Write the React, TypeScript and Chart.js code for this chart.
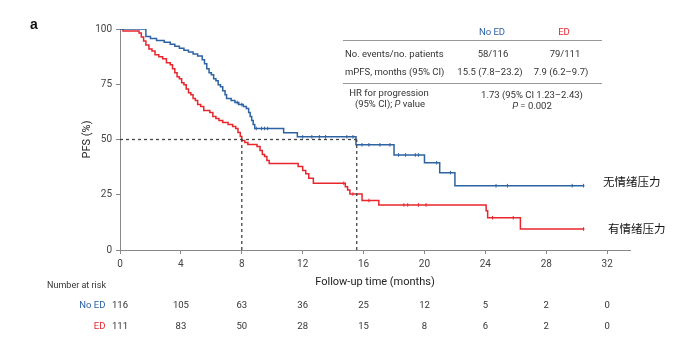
import React, { useEffect, useRef, useState } from "react";
import { Chart, registerables } from "chart.js";

Chart.register(...registerables);

// ---------- data ----------
const xTicks = [0, 4, 8, 12, 16, 20, 24, 28, 32];
const yTicks = [0, 25, 50, 75, 100];

// Kaplan-Meier steps: [time (months), PFS (%)]
const noEdCurve: [number, number][] = [
  [0, 100], [1.7, 96.6], [2.0, 95.7], [2.4, 94.8], [2.9, 94.0], [3.3, 93.1], [3.6, 92.2],
  [3.9, 91.3], [4.2, 90.4], [4.5, 89.6], [4.8, 88.7], [5.1, 87.8], [5.4, 86.1], [5.55, 84.3],
  [5.7, 82.0], [5.85, 80.2], [6.0, 79.3], [6.15, 77.5], [6.3, 76.6], [6.45, 74.8], [6.6, 73.9],
  [6.75, 72.1], [6.9, 70.3], [7.0, 68.5], [7.3, 67.6], [7.55, 66.7], [7.8, 65.8], [8.1, 64.9],
  [8.3, 64.0], [8.45, 62.2], [8.55, 60.4], [8.65, 58.6], [8.75, 56.8], [8.85, 55.0],
  [10.75, 53.1], [11.65, 51.2], [15.5, 47.6], [18.0, 43.0], [20.0, 39.5], [21.0, 35.0],
  [22.0, 29.1], [30.5, 29.1],
];
const edCurve: [number, number][] = [
  [0, 100], [0.2, 99.1], [1.25, 98.2], [1.4, 96.4], [1.55, 94.6], [1.7, 92.8], [1.9, 91.0],
  [2.1, 90.1], [2.3, 88.3], [2.55, 87.4], [2.8, 86.5], [3.05, 84.7], [3.3, 83.8], [3.45, 82.0],
  [3.6, 80.2], [3.75, 78.4], [3.9, 77.5], [4.05, 75.7], [4.2, 74.8], [4.35, 72.9], [4.5, 71.2],
  [4.65, 70.3], [4.8, 68.5], [4.95, 67.6], [5.1, 65.8], [5.3, 64.9], [5.5, 63.1], [5.9, 62.2],
  [6.1, 60.4], [6.3, 59.5], [6.5, 58.6], [6.75, 57.7], [7.1, 56.8], [7.4, 55.9], [7.6, 55.0],
  [7.75, 53.2], [7.9, 51.4], [8.0, 49.5], [8.2, 48.6], [8.4, 47.7], [9.0, 46.8], [9.2, 45.0],
  [9.35, 43.2], [9.5, 42.3], [9.65, 40.5], [9.8, 39.1], [11.7, 37.8], [12.0, 36.0],
  [12.2, 34.5], [12.4, 32.5], [12.7, 30.2], [14.8, 28.6], [14.95, 27.1], [15.1, 25.3],
  [15.9, 22.4], [17.0, 20.4], [24.05, 17.8], [24.15, 14.6], [26.3, 9.5], [30.5, 9.5],
];

// censoring marks
const noEdCensor: [number, number][] = [
  [7.7, 66.7], [8.0, 65.8], [8.95, 55], [9.3, 55], [9.5, 55], [9.7, 55], [12.0, 51.2],
  [12.6, 51.2], [13.1, 51.2], [13.5, 51.2], [14.9, 51.2], [15.3, 51.2], [15.9, 47.6],
  [16.35, 47.6], [17.07, 47.6], [17.73, 47.6], [18.3, 43], [18.76, 43], [19.4, 43],
  [19.6, 43], [20.8, 39.5], [21.7, 35], [24.7, 29.1], [25.45, 29.1], [29.7, 29.1], [30.45, 29.1],
];
const edCensor: [number, number][] = [
  [14.7, 30.2], [15.3, 25.3], [16.35, 22.4], [18.65, 20.4], [18.9, 20.4], [19.6, 20.4],
  [20.1, 20.4], [24.47, 14.6], [25.83, 14.6], [30.45, 9.5],
];

const medianEd = 8.0;
const medianNoEd = 15.55;

const riskNoEd = [116, 105, 63, 36, 25, 12, 5, 2, 0];
const riskEd = [111, 83, 50, 28, 15, 8, 6, 2, 0];

// ---------- styles ----------
const BLUE = "#2d62a3";
const RED = "#e8262c";
const FONT = "Roboto, 'Noto Sans', Arial, sans-serif";
const CJK = "'Noto Sans CJK SC', sans-serif";

const pts = (a: [number, number][]) => a.map(([x, y]) => ({ x, y }));

type TProps = {
  x: number;
  y: number;
  align?: "left" | "center" | "right";
  size?: number;
  color?: string;
  bold?: boolean;
  family?: string;
  children: React.ReactNode;
};

const T = ({ x, y, align = "left", size = 9.5, color = "#333", bold, family = FONT, children }: TProps) => {
  const tx = align === "left" ? "0" : align === "center" ? "-50%" : "-100%";
  return (
    <div
      style={{
        position: "absolute",
        left: x,
        top: y,
        transform: `translate(${tx}, -50%)`,
        fontSize: size,
        lineHeight: 1,
        color,
        fontFamily: family,
        fontWeight: bold ? 700 : 400,
        whiteSpace: "nowrap",
      }}
    >
      {children}
    </div>
  );
};

export default function App() {
  const ref = useRef<HTMLCanvasElement | null>(null);
  const [tickPx, setTickPx] = useState<number[]>([]);

  useEffect(() => {
    if (!ref.current) return;
    const dash = {
      borderColor: "#444",
      borderWidth: 1.3,
      borderDash: [3, 3],
      pointRadius: 0,
      fill: false,
    };
    const chart = new Chart(ref.current, {
      type: "line",
      data: {
        datasets: [
          { ...dash, data: [{ x: 0, y: 50 }, { x: medianNoEd, y: 50 }] },
          { ...dash, data: [{ x: medianEd, y: 0 }, { x: medianEd, y: 50 }] },
          { ...dash, data: [{ x: medianNoEd, y: 0 }, { x: medianNoEd, y: 50 }] },
          {
            data: pts(noEdCurve),
            borderColor: BLUE,
            borderWidth: 1.5,
            stepped: "before",
            pointRadius: 0,
            fill: false,
          },
          {
            data: pts(edCurve),
            borderColor: RED,
            borderWidth: 1.5,
            stepped: "before",
            pointRadius: 0,
            fill: false,
          },
          {
            data: pts(noEdCensor),
            showLine: false,
            pointStyle: "line",
            rotation: 90,
            pointRadius: 1.8,
            pointBorderWidth: 1,
            pointBorderColor: BLUE,
            borderColor: BLUE,
          },
          {
            data: pts(edCensor),
            showLine: false,
            pointStyle: "line",
            rotation: 90,
            pointRadius: 1.8,
            pointBorderWidth: 1,
            pointBorderColor: RED,
            borderColor: RED,
          },
        ] as any,
      },
      options: {
        animation: false,
        responsive: false,
        devicePixelRatio: 1,
        layout: { padding: { left: 81, top: 29, right: 62, bottom: 66 } },
        plugins: { legend: { display: false }, tooltip: { enabled: false } },
        scales: {
          x: {
            type: "linear",
            min: 0,
            max: 33.5,
            afterBuildTicks: (s: any) => {
              s.ticks = xTicks.map((v) => ({ value: v }));
            },
            afterFit: (s: any) => {
              s.height = 40;
            },
            grid: { drawOnChartArea: false, drawTicks: true, tickLength: 4, color: "#888", tickColor: "#888" },
            border: { display: true, color: "#888", width: 1 },
            ticks: { padding: 4, color: "#444", font: { size: 10, family: FONT }, maxRotation: 0 },
            title: {
              display: true,
              text: "Follow-up time (months)",
              color: "#222",
              font: { size: 11, family: FONT },
              padding: { top: 0, bottom: 1 },
            },
          },
          y: {
            type: "linear",
            min: 0,
            max: 100,
            afterBuildTicks: (s: any) => {
              s.ticks = yTicks.map((v) => ({ value: v }));
            },
            afterFit: (s: any) => {
              s.width = 39;
            },
            grid: { drawOnChartArea: false, drawTicks: true, tickLength: 4, color: "#888", tickColor: "#888" },
            border: { display: true, color: "#888", width: 1 },
            ticks: { padding: 4, color: "#444", font: { size: 10, family: FONT } },
            title: {
              display: true,
              text: "PFS (%)",
              color: "#222",
              font: { size: 11, family: FONT },
              padding: { top: 0, bottom: 0 },
            },
          },
        },
      } as any,
    });
    const xs = chart.scales.x;
    setTickPx(xTicks.map((t) => xs.getPixelForValue(t)));
    return () => chart.destroy();
  }, []);

  return (
    <div
      style={{
        position: "fixed",
        left: 0,
        top: 0,
        width: 692,
        height: 356,
        background: "#fff",
        overflow: "hidden",
      }}
    >
      <canvas ref={ref} width={692} height={356} style={{ position: "absolute", left: 0, top: 0, width: 692, height: 356 }} />

      <T x={30} y={24} size={14} bold color="#111" family="Arial, 'Liberation Sans', sans-serif">
        a
      </T>

      {/* summary table */}
      <T x={492} y={31.5} align="center" color={BLUE}>No ED</T>
      <T x={564} y={31.5} align="center" color={RED}>ED</T>
      <div style={{ position: "absolute", left: 343, top: 40, width: 259, borderTop: "1px solid #999" }} />
      <T x={345} y={53.5}>No. events/no. patients</T>
      <T x={493} y={53.5} align="center">58/116</T>
      <T x={565} y={53.5} align="center">79/111</T>
      <T x={345} y={72}>mPFS, months (95% CI)</T>
      <T x={490} y={72} align="center">15.5 (7.8–23.2)</T>
      <T x={561} y={72} align="center">7.9 (6.2–9.7)</T>
      <div style={{ position: "absolute", left: 343, top: 83, width: 259, borderTop: "1px solid #999" }} />
      <T x={389} y={93} align="center">HR for progression</T>
      <T x={390} y={103.5} align="center">
        (95% CI); <i>P</i> value
      </T>
      <T x={532} y={94.5} align="center">1.73 (95% CI 1.23–2.43)</T>
      <T x={532} y={105.5} align="center">
        <i>P</i> = 0.002
      </T>

      {/* curve labels */}
      <T x={603} y={182} size={11.5} color="#111" family={CJK}>无情绪压力</T>
      <T x={608} y={228.5} size={11.5} color="#111" family={CJK}>有情绪压力</T>

      {/* number at risk */}
      <T x={106} y={284.5} align="right" size={9}>Number at risk</T>
      <T x={105.5} y={305} align="right" size={9.5} color={BLUE}>No ED</T>
      <T x={105.5} y={326} align="right" size={9.5} color={RED}>ED</T>
      {tickPx.map((px, i) => (
        <React.Fragment key={i}>
          <T x={px} y={305} align="center" size={9.5}>{riskNoEd[i]}</T>
          <T x={px} y={326} align="center" size={9.5}>{riskEd[i]}</T>
        </React.Fragment>
      ))}
    </div>
  );
}
